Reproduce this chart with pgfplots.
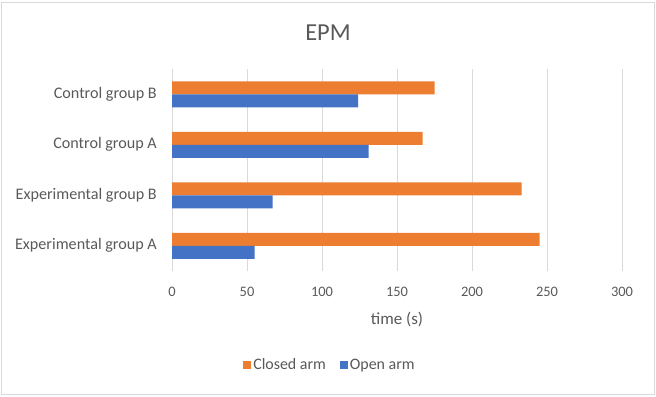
\documentclass[border=0pt]{standalone}
\usepackage{fontspec}
\setmainfont{Carlito}
\usepackage{pgfplots}
\pgfplotsset{compat=1.18}
\definecolor{orng}{HTML}{ED7D31}
\definecolor{blu}{HTML}{4472C4}
\definecolor{grd}{HTML}{D9D9D9}
\definecolor{txt}{HTML}{595959}
\begin{document}
\begin{tikzpicture}[x=1bp,y=1bp]
\useasboundingbox (0,0) rectangle (656,396);
\draw[grd, line width=0.75bp] (1,2) rectangle (654,394);
\node[txt, font=\fontsize{24.5}{28}\selectfont] at (328,363) {EPM};
\begin{axis}[
  at={(172bp,125bp)}, anchor=south west,
  scale only axis, width=450bp, height=202bp,
  xbar, xmin=0, xmax=300, ymin=-0.5, ymax=3.5,
  bar width=13bp,
  ytick={0,1,2,3},
  yticklabels={Experimental group A, Experimental group B, Control group A, Control group B},
  xtick={0,50,...,300},
  xmajorgrids, grid style={grd, line width=0.75bp},
  axis line style={draw=none},
  major tick length=0pt,
  tick label style={text=txt},
  xticklabel style={font=\fontsize{14.5}{17}\selectfont, anchor=center, yshift=-21bp},
  yticklabel style={font=\fontsize{16.2}{19}\selectfont, anchor=east, inner sep=0pt, xshift=-15bp},
  /pgf/number format/assume math mode=true,
  xlabel={time (s)},
  xlabel style={text=txt, font=\fontsize{17}{20}\selectfont, at={(axis description cs:0.5,-0.2376)}, anchor=center},
  legend style={at={(0.351,-0.465)}, anchor=center, draw=none, legend columns=2,
    font=\fontsize{16}{19}\selectfont, text=txt,
    /tikz/every even column/.append style={column sep=12bp}},
  legend image code/.code={\fill[#1] (0bp,-4bp) rectangle (8bp,4bp);},
]
\addplot[fill=orng, draw=none, bar shift=6.5bp] coordinates {(245,0) (233,1) (167,2) (175,3)};
\addlegendentry{Closed arm}
\addplot[fill=blu, draw=none, bar shift=-6.5bp] coordinates {(55,0) (67,1) (131,2) (124,3)};
\addlegendentry{Open arm}
\end{axis}
\end{tikzpicture}
\end{document}
